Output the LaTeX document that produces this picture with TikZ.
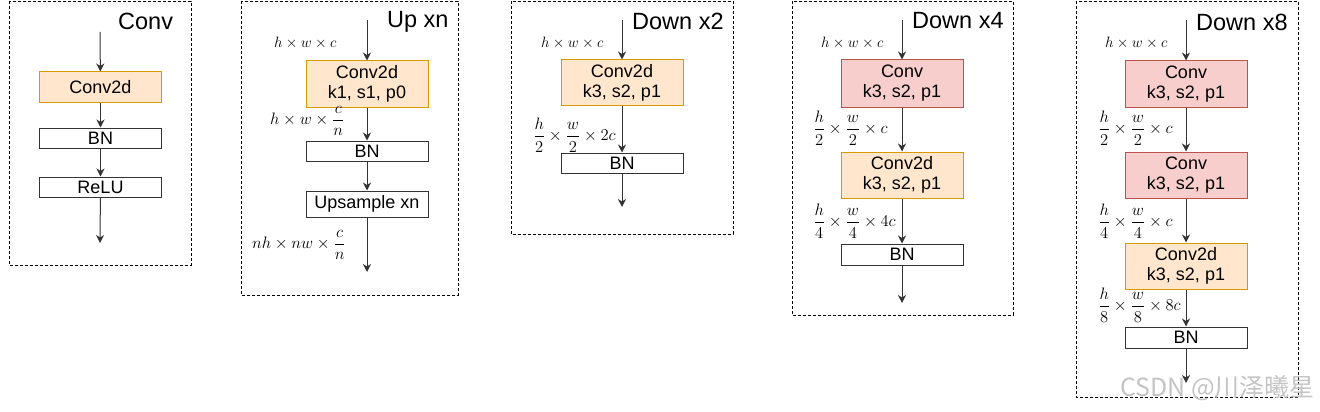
\documentclass[tikz,border=0pt]{standalone}
\usepackage{graphicx}
\usepackage{fontspec}
\setmainfont{Liberation Sans}
\newfontfamily\cjkfont{Noto Sans CJK SC}
\usetikzlibrary{arrows.meta}
\definecolor{orfill}{HTML}{FFE6CC}
\definecolor{ordraw}{HTML}{D79B00}
\definecolor{rdfill}{HTML}{F8CECC}
\definecolor{rddraw}{HTML}{B85450}
\definecolor{lngray}{HTML}{333333}
\definecolor{wmgray}{HTML}{C4C4C4}
\newcommand{\fr}[1]{\scalebox{1.15}{$\displaystyle #1$}}
\newcommand{\pl}[1]{\scalebox{1.04}{$#1$}}
\tikzset{
  blk/.style={draw=lngray, line width=1pt, fill=white, minimum width=122pt, inner sep=0pt, align=center,
    font=\fontsize{18}{20}\selectfont},
  orblk/.style={blk, draw=ordraw, fill=orfill},
  rdblk/.style={blk, draw=rddraw, fill=rdfill},
  ttl/.style={anchor=west, inner sep=0pt, font=\fontsize{23.5}{26}\selectfont},
  lbl/.style={anchor=west, inner sep=0pt, font=\fontsize{14.4}{17}\selectfont},
  frm/.style={draw=black, line width=0.8pt, dash pattern=on 3pt off 2pt},
  arr/.style={draw=lngray, line width=1pt, -{Stealth[length=8pt,width=8pt,inset=2.5pt]}},
}
\begin{document}
\begin{tikzpicture}[x=1pt,y=-1pt]
\useasboundingbox (0,0) rectangle (1320,412);
% ---------- Panel 1: Conv
\draw[frm] (9,1) rectangle (191,265);
\node[ttl] (t1) at (118,21) {Conv};
\coordinate (s1) at (100,32);
\node[orblk, minimum height=30pt] (a1) at (100.5,87) {Conv2d};
\node[blk, minimum height=20pt] (a2) at (100.5,138) {BN};
\node[blk, minimum height=20pt] (a3) at (100.5,187) {ReLU};
\coordinate (e1) at (100,243);
\draw[arr] (s1) -- (a1);
\draw[arr] (a1) -- (a2);
\draw[arr] (a2) -- (a3);
\draw[arr] (a3) -- (e1);
% ---------- Panel 2: Up xn
\draw[frm] (241,1) rectangle (458,295);
\node[ttl] (t2) at (387,22) {Up xn};
\coordinate (s2) at (367,20);
\node[orblk, minimum height=46pt] (b1) at (367,84) {Conv2d\\k1, s1, p0};
\node[blk, minimum height=20pt] (b2) at (367,151) {BN};
\node[blk, minimum height=26pt] (b3) at (367,204) {Upsample xn};
\coordinate (e2) at (367,272);
\draw[arr] (s2) -- (b1);
\draw[arr] (b1) -- (b2);
\draw[arr] (b2) -- (b3);
\draw[arr] (b3) -- (e2);
\node[lbl] (l21) at (274,43) {\pl{h\times w\times c}};
\node[lbl] (l22) at (270,121) {\fr{h\times w\times \frac{c}{n}}};
\node[lbl] (l23) at (252,245) {\fr{nh\times nw\times \frac{c}{n}}};
% ---------- Panel 3: Down x2
\draw[frm] (511,1) rectangle (733,234);
\node[ttl] (t3) at (632,21) {Down x2};
\coordinate (s3) at (622,20);
\node[orblk, minimum height=45pt] (c1) at (622,82.5) {Conv2d\\k3, s2, p1};
\node[blk, minimum height=20pt] (c2) at (622,163) {BN};
\coordinate (e3) at (622,207);
\draw[arr] (s3) -- (c1);
\draw[arr] (c1) -- (c2);
\draw[arr] (c2) -- (e3);
\node[lbl] (l31) at (541,43) {\pl{h\times w\times c}};
\node[lbl] (l32) at (533,135) {\fr{\frac{h}{2}\times \frac{w}{2}\times 2c}};
% ---------- Panel 4: Down x4
\draw[frm] (792,1) rectangle (1013,315);
\node[ttl] (t4) at (912,21) {Down x4};
\coordinate (s4) at (902,20);
\node[rdblk, minimum height=47pt] (d1) at (902,83.5) {Conv\\k3, s2, p1};
\node[orblk, minimum height=46pt] (d2) at (902,175) {Conv2d\\k3, s2, p1};
\node[blk, minimum height=21pt] (d3) at (902,254.5) {BN};
\coordinate (e4) at (902,303);
\draw[arr] (s4) -- (d1);
\draw[arr] (d1) -- (d2);
\draw[arr] (d2) -- (d3);
\draw[arr] (d3) -- (e4);
\node[lbl] (l41) at (821,43) {\pl{h\times w\times c}};
\node[lbl] (l42) at (813,128) {\fr{\frac{h}{2}\times \frac{w}{2}\times c}};
\node[lbl] (l43) at (813,221) {\fr{\frac{h}{4}\times \frac{w}{4}\times 4c}};
% ---------- Panel 5: Down x8
\draw[frm] (1076,1) rectangle (1298,397);
\node[ttl] (t5) at (1196,22) {Down x8};
\coordinate (s5) at (1186,20);
\node[rdblk, minimum height=46pt] (f1) at (1186,84) {Conv\\k3, s2, p1};
\node[rdblk, minimum height=46pt] (f2) at (1186,175) {Conv\\k3, s2, p1};
\node[orblk, minimum height=46pt] (f3) at (1186,266) {Conv2d\\k3, s2, p1};
\node[blk, minimum height=21pt] (f4) at (1186,337.5) {BN};
\coordinate (e5) at (1186,383);
\draw[arr] (s5) -- (f1);
\draw[arr] (f1) -- (f2);
\draw[arr] (f2) -- (f3);
\draw[arr] (f3) -- (f4);
\draw[arr] (f4) -- (e5);
\node[lbl] (l51) at (1105,43) {\pl{h\times w\times c}};
\node[lbl] (l52) at (1098,128) {\fr{\frac{h}{2}\times \frac{w}{2}\times c}};
\node[lbl] (l53) at (1098,221) {\fr{\frac{h}{4}\times \frac{w}{4}\times c}};
\node[lbl] (l54) at (1098,305) {\fr{\frac{h}{8}\times \frac{w}{8}\times 8c}};
% ---------- watermark
\node[anchor=east, inner sep=0pt, text=wmgray, font=\cjkfont\fontsize{25}{27}\selectfont] (wm) at (1315,388) {CSDN @川泽曦星};
\end{tikzpicture}
\end{document}
